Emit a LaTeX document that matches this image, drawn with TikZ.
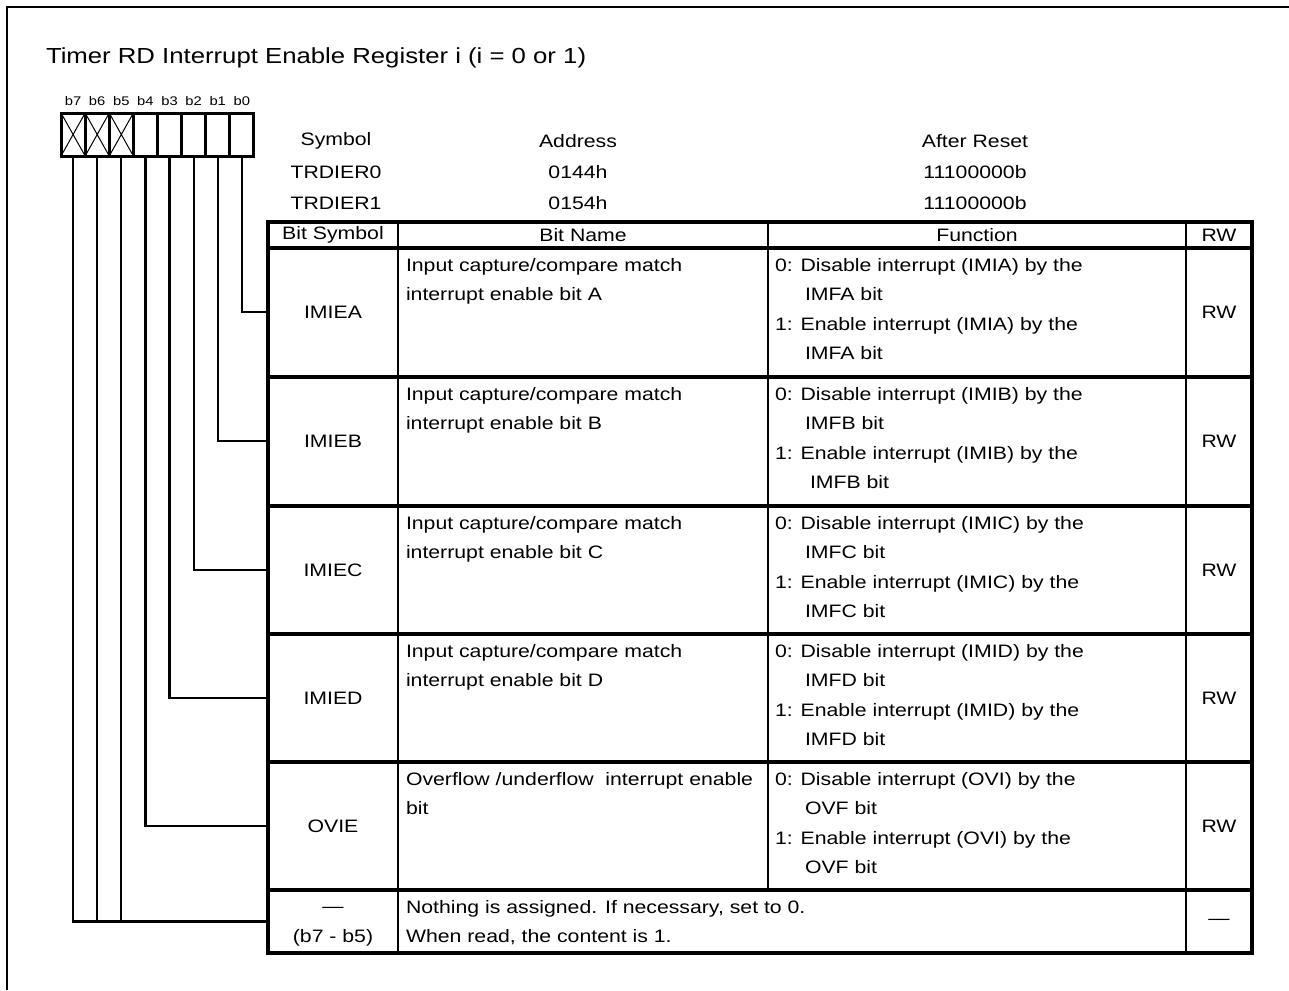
\documentclass[tikz,border=0pt]{standalone}
\usepackage{fontspec}
\setmainfont{Liberation Sans}[FakeStretch=1.18]
\begin{document}
\begin{tikzpicture}[
        x=1pt, y=-1pt,
        line width=2pt,
        font=\fontsize{18}{29.3}\selectfont
    ]
    \tikzset{
        bitcell/.style = {draw, line width=3pt, minimum width=24.1pt, minimum height=43pt, inner sep=0pt, outer sep=0pt},
        bitlabel/.style = {font=\fontsize{12.5}{14}\selectfont, inner sep=0pt},
        symcell/.style = {minimum width=130pt, minimum height=126pt, inner sep=0pt, outer sep=0pt, align=center},
        headtxt/.style = {inner sep=0pt},
        celltxt/.style = {anchor=north west, align=left, inner sep=0pt},
        tabline/.style = {line width=3.2pt},
        colline/.style = {line width=2.6pt},
        wire/.style = {line width=2.2pt},
        cross/.style = {line width=1pt},
    }
    \useasboundingbox (0,0) rectangle (1289,990);
    \draw[line width=2.5pt] (7,990) -- (7,7) -- (1289,7);
    \node[anchor=west, inner sep=0pt, font=\fontsize{21.8}{24}\selectfont] (title) at (45,58)
        {Timer RD Interrupt Enable Register i (i = 0 or 1)};
    %
    \node[bitcell] at (73.1,134.5) (b7) {};
    \node[bitcell] at (97.2,134.5) (b6) {};
    \node[bitcell] at (121.3,134.5) (b5) {};
    \node[bitcell] at (145.4,134.5) (b4) {};
    \node[bitcell] at (169.5,134.5) (b3) {};
    \node[bitcell] at (193.6,134.5) (b2) {};
    \node[bitcell] at (217.7,134.5) (b1) {};
    \node[bitcell] at (241.8,134.5) (b0) {};
    \draw[cross] (b7.north west) -- (b7.south east) (b7.south west) -- (b7.north east);
    \draw[cross] (b6.north west) -- (b6.south east) (b6.south west) -- (b6.north east);
    \draw[cross] (b5.north west) -- (b5.south east) (b5.south west) -- (b5.north east);
    \node[bitlabel] at (73.1,101) (l7) {b7};
    \node[bitlabel] at (97.2,101) (l6) {b6};
    \node[bitlabel] at (121.3,101) (l5) {b5};
    \node[bitlabel] at (145.4,101) (l4) {b4};
    \node[bitlabel] at (169.5,101) (l3) {b3};
    \node[bitlabel] at (193.6,101) (l2) {b2};
    \node[bitlabel] at (217.7,101) (l1) {b1};
    \node[bitlabel] at (241.8,101) (l0) {b0};
    %
    \node[headtxt] at (336,141) (hsym) {Symbol};
    \node[headtxt] at (578,141) (hadr) {Address};
    \node[headtxt] at (975,141) (hrst) {After Reset};
    \node[headtxt] at (336,172) (sym0) {TRDIER0};
    \node[headtxt] at (578,172) (adr0) {0144h};
    \node[headtxt] at (975,172) (rst0) {11100000b};
    \node[headtxt] at (336,203) (sym1) {TRDIER1};
    \node[headtxt] at (578,203) (adr1) {0154h};
    \node[headtxt] at (975,203) (rst1) {11100000b};
    %
    \draw[tabline] (268,222) rectangle (1252,953);
    \draw[tabline] (268,248) -- (1252,248);
    \draw[tabline] (268,377) -- (1252,377);
    \draw[tabline] (268,506) -- (1252,506);
    \draw[tabline] (268,634) -- (1252,634);
    \draw[tabline] (268,762) -- (1252,762);
    \draw[tabline] (268,890) -- (1252,890);
    \draw[colline] (398,222) -- (398,953);
    \draw[colline] (768,222) -- (768,890);
    \draw[colline] (1186,222) -- (1186,953);
    %
    \node[headtxt] at (333,235) (tsym) {Bit Symbol};
    \node[headtxt] at (583,235) (tnam) {Bit Name};
    \node[headtxt] at (977,235) (tfun) {Function};
    \node[headtxt] at (1219,235) (trw) {RW};
    %
    \node[symcell] at (333,312) (imiea) {IMIEA};
    \node[celltxt] at (405,257.5) (nama) {Input capture/compare match\\interrupt enable bit A};
    \node[celltxt] at (774,257.5) (funa) {0: Disable interrupt (IMIA) by the\\\hspace*{30pt}IMFA bit\\1: Enable interrupt (IMIA) by the\\\hspace*{30pt}IMFA bit};
    \node[headtxt] at (1219,312) (rwa) {RW};
    %
    \node[symcell] at (333,441) (imieb) {IMIEB};
    \node[celltxt] at (405,386.5) (namb) {Input capture/compare match\\interrupt enable bit B};
    \node[celltxt] at (774,386.5) (funb) {0: Disable interrupt (IMIB) by the\\\hspace*{30pt}IMFB bit\\1: Enable interrupt (IMIB) by the\\\hspace*{35pt}IMFB bit};
    \node[headtxt] at (1219,441) (rwb) {RW};
    %
    \node[symcell] at (333,570) (imiec) {IMIEC};
    \node[celltxt] at (405,515.5) (namc) {Input capture/compare match\\interrupt enable bit C};
    \node[celltxt] at (774,515.5) (func) {0: Disable interrupt (IMIC) by the\\\hspace*{30pt}IMFC bit\\1: Enable interrupt (IMIC) by the\\\hspace*{30pt}IMFC bit};
    \node[headtxt] at (1219,570) (rwc) {RW};
    %
    \node[symcell] at (333,698) (imied) {IMIED};
    \node[celltxt] at (405,643.5) (namd) {Input capture/compare match\\interrupt enable bit D};
    \node[celltxt] at (774,643.5) (fund) {0: Disable interrupt (IMID) by the\\\hspace*{30pt}IMFD bit\\1: Enable interrupt (IMID) by the\\\hspace*{30pt}IMFD bit};
    \node[headtxt] at (1219,698) (rwd) {RW};
    %
    \node[symcell] at (333,826) (ovie) {OVIE};
    \node[celltxt] at (405,771.5) (namo) {Overflow /underflow\ \ interrupt enable\\bit};
    \node[celltxt] at (774,771.5) (funo) {0: Disable interrupt (OVI) by the\\\hspace*{30pt}OVF bit\\1: Enable interrupt (OVI) by the\\\hspace*{30pt}OVF bit};
    \node[headtxt] at (1219,826) (rwo) {RW};
    %
    \node[symcell, minimum height=60pt] at (333,921.5) (rsv) {\strut---\\\strut(b7 - b5)};
    \node[celltxt] at (405,899.5) (namr) {Nothing is assigned. If necessary, set to 0.\\When read, the content is 1.};
    \node[headtxt] at (1219,922) (rwr) {---};
    %
    \draw[wire] (b0.south) |- (imiea.west);
    \draw[wire] (b1.south) |- (imieb.west);
    \draw[wire] (b2.south) |- (imiec.west);
    \draw[wire] (b3.south) |- (imied.west);
    \draw[wire] (b4.south) |- (ovie.west);
    \draw[wire] (b7.south) |- (rsv.west);
    \draw[wire] (b6.south) -- (b6.south |- rsv.west);
    \draw[wire] (b5.south) -- (b5.south |- rsv.west);
\end{tikzpicture}
\end{document}
